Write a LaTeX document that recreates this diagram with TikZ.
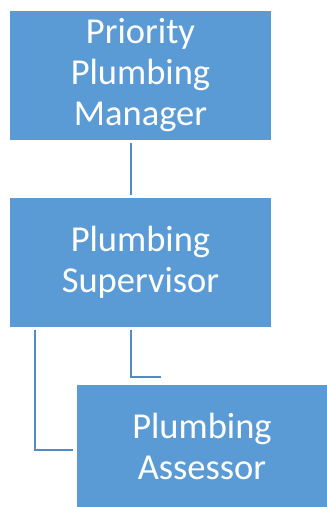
\documentclass[tikz,border=0pt]{standalone}
\usepackage{fontspec}
\setmainfont{Carlito}
\definecolor{boxblue}{HTML}{5B9BD5}
\definecolor{lineblue}{HTML}{4F8CC9}

\begin{document}
\begin{tikzpicture}[x=1pt, y=-1pt,
    role/.style={fill=boxblue, text=white, inner sep=0pt, align=center,
      minimum width=261pt, minimum height=129pt,
      font=\fontsize{36.5}{41}\selectfont},
    link/.style={draw=lineblue, line width=2.5pt}]
			\useasboundingbox (0,0) rectangle (327,507);

			% Boxes
			\node[role] (mgr) at (140.5,75.5) {Priority\\Plumbing\\Manager};
			\node[role] (sup) at (140.5,262.5) {Plumbing\\Supervisor};
			\node[role, minimum width=250pt, minimum height=122pt] (asr) at (202,446) {Plumbing\\Assessor};

			% Connectors
			\coordinate (stub) at (161,377);
			\draw[link] ([xshift=121pt,yshift=-3pt]mgr.south west) -- ([xshift=121pt,yshift=3pt]sup.north west);
			\draw[link] ([xshift=121pt,yshift=-3pt]sup.south west) |- (stub);
			\draw[link] ([xshift=25pt,yshift=-3pt]sup.south west) |- ([xshift=-4pt,yshift=-4pt]asr.west);
		\end{tikzpicture}
\end{document}
